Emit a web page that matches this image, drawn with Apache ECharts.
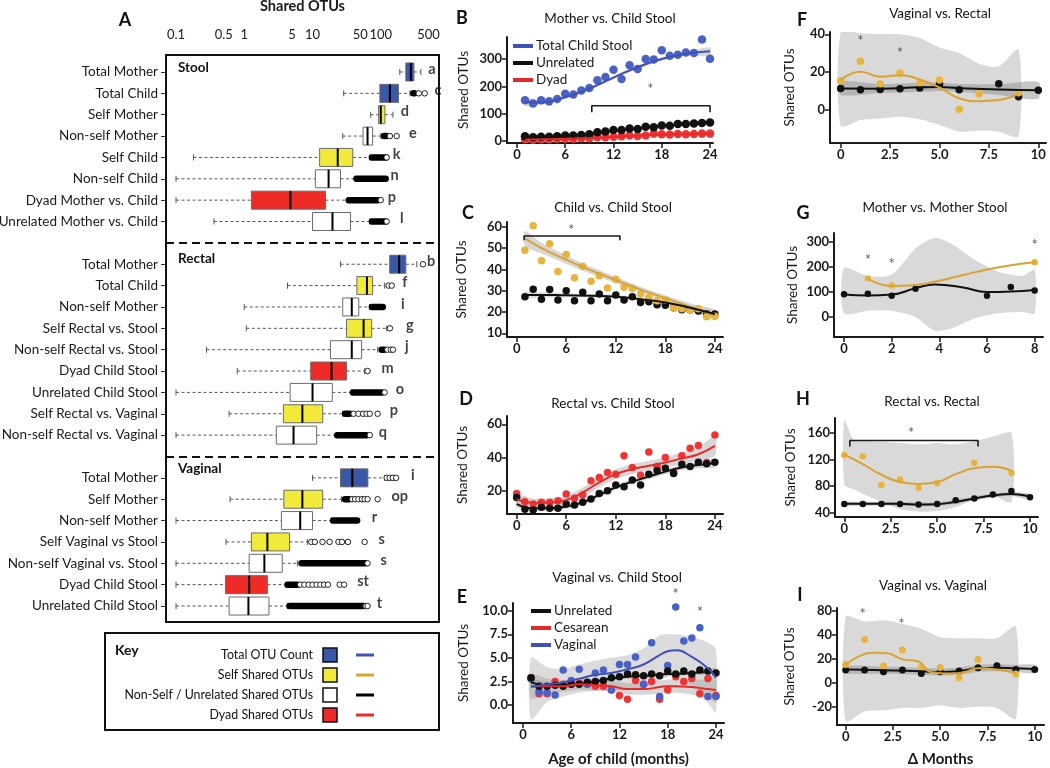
<!DOCTYPE html>
<html><head><meta charset="utf-8">
<script src="https://cdn.jsdelivr.net/npm/echarts@6/dist/echarts.min.js"></script>
<style>html,body{margin:0;padding:0;background:#fff}#c{width:1050px;height:768px}</style>
</head><body><div id="c"></div>
<script>
const FONT = 'Lato, "Noto Sans", "DejaVu Sans", sans-serif';

// ---------------- Panel A: box plots (log scale) ----------------
const aLabels = ['Total Mother','Total Child','Self Mother','Non-self Mother','Self Child','Non-self Child','Dyad Mother vs. Child','Unrelated Mother vs. Child',' ',
  'Total Mother','Total Child','Non-self Mother','Self Rectal vs. Stool','Non-self Rectal vs. Stool','Dyad Child Stool','Unrelated Child Stool','Self Rectal vs. Vaginal','Non-self Rectal vs. Vaginal','  ',
  'Total Mother','Self Mother','Non-self Mother','Self Vaginal vs Stool','Non-self Vaginal vs. Stool','Dyad Child Stool','Unrelated Child Stool'];
const aGroups = ['total','total','self','other','self','other','dyad','other',null,
  'total','self','other','self','other','dyad','other','self','other',null,
  'total','self','other','self','other','dyad','other'];
const aLow  = [190,28.6,71,27.7,0.18,0.1,0.1,0.36,null, 25.7,4.3,1,1.07,0.28,0.79,0.1,0.6,0.1,null, 10,0.62,0.1,0.54,0.1,0.1,0.1];
const aQ1   = [233,97,93,55,12.7,11,1.27,10,null, 135,44.6,27.7,31.5,18.3,9.4,4.7,3.74,2.95,null, 25.7,3.8,3.5,1.27,1.18,0.53,0.6];
const aMed  = [276,136,100,64,23.4,17.2,4.75,19.6,null, 186,62.7,37.6,56,37.6,19,10,7.1,5.27,null, 38.3,7.1,6.6,2.18,1.97,1.18,1.15];
const aQ3   = [306,182,115,76,38.9,25.7,15.5,36,null, 233,76,47.6,73.6,52.4,31.6,19.5,14.1,11.5,null, 64.7,14.1,10,4.6,3.6,2.18,2.3];
const aHigh = [387,267,151,100,69,43,32.6,69,null, 337,114,69,122,90,58,37.6,27.7,22.5,null, 114,26.6,19,8.4,6,4.1,4.3];
const aDense = [null,[300,310],null,[112,120],[74,120],[44,118],[34,90],[74,118],null,
  null,null,[74,107],null,[103,112],null,[39,105],[30,35],[23,62],null,
  null,[30,34],[20,45],null,[6.9,60],[4.3,6],[4.6,55]];
const aOpen = [[],[360,440],[],[136,171],[122],[],[100],[122],[],
  [415],[130,145],[],[136],[125,140,151],[64],[114],[40,47,55,62,69,90],[69],[],
  [122,135,150,168],[38,42,47,53,58,64,90],[],[9.6,10.8,14,17.8,24,27,33,58],[64],[6.6,7.6,8.8,10,11.5,13,14.8,16.8,25,29],[60,64]];
const aLetters = ['a','c','d','e','k','n','p','l','', 'b','f','i','g','j','m','o','p','q','', 'i','op','r','s','s','st','t'];
const aLetterX = [560,690,225,295,171,160,145,203,null, 545,225,210,267,240,126,190,155,107,null, 295,190,81,103,110,55,96];
const aTicks = [0.1,0.5,1,5,10,50,100,500];
const aTickLabels = ['0.1','0.5','1','5','10','50','100','500'];
const groupColors = {total:'#3a57a8', self:'#f1ea3a', other:'#ffffff', dyad:'#ee2b26'};

// ---------------- Panel B ----------------
const bMonths = [1,2,3,4,5,6,7,8,9,10,11,12,13,14,15,16,17,18,19,20,21,22,23,24];
const bTotal = [149,137,149,145,154,173,170,185,194,222,234,261,227,277,263,300,298,332,312,316,324,322,371,301];
const bUnrelated = [17,14,16,16,17,20,20,22,25,32,35,40,40,46,44,52,50,57,56,62,62,64,66,68];
const bDyad = [6,5,6,6,8,8,8,10,10,14,14,16,17,20,18,20,27,25,24,26,25,26,27,27];
const bFitX = [1,3,6,9,12,15,18,21,24];
const bTotalFit = [143,141,160,192,232,270,300,318,328];
const bTotalLo = [128,133,153,186,226,264,294,311,313];
const bTotalHi = [158,149,167,198,238,276,306,325,343];
const bUnrelFit = [15,16,19,25,37,47,55,61,67];
const bUnrelLo = [12,13,16,22,34,44,52,58,62];
const bUnrelHi = [18,19,22,28,40,50,58,64,72];
const bDyadFit = [5,6,8,11,15,19,23,25,26];
const bBracket = [[9.3,105],[9.3,129],[24,129],[24,105]];
const bStars = [[16.6,190]];

// ---------------- Panel C ----------------
const cMonths = bMonths;
const cSelf = [49,60.5,44,52,39,47,36,41.5,34.4,37,31.3,35.4,31.6,31,28.4,26.8,25.3,25.6,22,21.5,21,21.5,17.8,18];
const cUnrelated = [27.1,30.7,26,30.5,25.6,30,25.3,29.2,25.3,28.4,25.3,28,25.6,27.1,24.5,24.8,23.4,23.2,22,21,21,20.5,19,19];
const cFitX = [1,3,6,9,12,15,18,21,24];
const cSelfFit = [54.5,50,44.5,39.5,35,30.5,26.5,22.5,18.5];
const cSelfLo = [51,47.5,42.5,37.8,33.5,29.2,25.2,21,16];
const cSelfHi = [58,52.5,46.5,41.2,36.5,31.8,27.8,24,21];
const cUnrelFit = [28,28,27.8,27.6,27.2,26,24.5,22,19];
const cUnrelLo = [26.5,26.8,26.8,26.8,26.4,25.2,23.6,21,17.5];
const cUnrelHi = [29.5,29.2,28.8,28.4,28,26.8,25.4,23,20.5];
const cBracket = [[0.9,53.7],[0.9,55.6],[12.5,55.6],[12.5,53.7]];
const cStars = [[6.6,58.2]];

// ---------------- Panel D ----------------
const dMonths = [0,1,2,3,4,5,6,7,8,9,10,11,12,13,14,15,16,17,18,19,20,21,22,23,24];
const dDyad = [18.4,13.4,12,13,13,14,18,15.5,17.5,26,28,31,30,41,34,29.4,43.4,34.6,40,31,41,45.6,47.2,37,53.6];
const dUnrelated = [16,8.8,8.4,10,9.4,9.4,12,11.4,13,15,18.4,20,23.4,22.4,26.4,23.4,30,32,33.6,30.4,36,34.6,37.2,36.2,37.2];
const dFitX = [0,2,4,6,8,10,12,14,16,18,20,22,24];
const dDyadFit = [15,12.8,12.8,14.5,19,25,30,33,35,37,39.5,42,47];
const dDyadLo = [12,10.3,10.3,12,16,22,27,30,32,34,36,38,41];
const dDyadHi = [18,15.3,15.3,17,22,28,33,36,38,40,43,46,53];
const dUnrelFit = [12,9.5,9.5,10.5,13,17.5,22,25.5,28.5,31.5,34,35.5,36.5];
const dUnrelLo = [10,8,8,9,11.5,16,20.5,24,27,30,32.5,33.5,34];
const dUnrelHi = [14,11,11,12,14.5,19,23.5,27,30,33,35.5,37.5,39];

// ---------------- Panel E ----------------
const eMonths = bMonths;
const eVaginal = [2.75,1.4,1.3,1.06,3.7,2.6,3.8,2.2,3.4,3.7,1.6,4.3,4.3,5.1,2.2,6.6,0.9,4.2,10.4,6.8,7.1,8.2,0.9,0.9];
const eCesarean = [2.9,1.2,1.2,2.5,2.2,2.2,2.3,2.2,2.0,2.0,1.6,1.0,0.6,2.6,2.2,2.5,0.6,1.6,3.0,2.5,2.8,1.2,2.8,1.0];
const eUnrelated = [2.9,2.0,2.0,2.1,2.0,2.2,2.2,2.4,2.5,2.6,2.9,3.0,3.3,3.2,3.1,3.3,3.1,3.6,3.3,3.6,3.3,3.7,3.6,3.4];
const eFitX = [1,3,5,7,9,11,13,15,17,18,19,21,23,24];
const eUnrelFit = [2.4,2.1,2.1,2.2,2.5,2.8,3.0,3.1,3.2,3.3,3.3,3.4,3.5,3.5];
const eUnrelLo = [2.0,1.85,1.9,2.0,2.3,2.6,2.8,2.9,3.0,3.1,3.1,3.2,3.2,3.1];
const eUnrelHi = [2.8,2.35,2.3,2.4,2.7,3.0,3.2,3.3,3.4,3.5,3.5,3.6,3.8,3.9];
const eCesFit = [2.0,2.0,2.0,2.2,2.1,2.0,1.7,1.7,1.9,2.0,2.0,1.9,1.7,1.6];
const eCesLo = [0.7,1.2,1.4,1.6,1.5,1.4,1.1,1.1,1.2,1.3,1.3,1.1,0.7,0.3];
const eCesHi = [3.3,2.8,2.6,2.8,2.7,2.6,2.3,2.3,2.6,2.7,2.7,2.7,2.7,2.9];
const eVagFit = [1.9,2.2,2.4,2.8,3.2,3.4,3.8,4.3,5.3,5.7,5.8,5.1,3.9,2.9];
const eVagLo = [-1.5,0.3,0.9,1.3,1.5,1.5,1.6,1.8,2.6,3.0,3.0,2.0,0.2,-0.8];
const eVagHi = [5.0,4.0,3.8,4.3,4.7,5.0,5.3,6.0,7.4,7.5,7.5,7.2,6.6,5.9];
const eStars = [[19,11.8],[22,9.9]];

// ---------------- Panel F ----------------
const fSelfX = [0,1,2,3,4,5,6,7,9];
const fSelf = [15.4,25.8,13.7,19.5,14,15.8,0.4,8.6,9.1];
const fUnrelX = [0,1,2,3,4,5,6,8,9,10];
const fUnrel = [11.4,10.7,10.9,11.2,11.6,13.7,10.7,13.9,7.0,10.5];
const fSelfFitX = [0,1,2,3,4,5,6,7,8,9];
const fSelfFit = [15.8,20.2,17.6,18.4,16.1,11.9,6.2,4.7,5.3,8.4];
const fSelfLo = [-8.4,-5.3,-4.4,-3.5,-4.9,-7.9,-11.4,-10.9,-11.4,-13.7];
const fSelfHi = [41,40.5,40,40,38,33,30,24.5,23,32];
const fUnrelFitX = [0,2,4,5,6,8,10];
const fUnrelFit = [11.4,11.3,12,12.2,11.6,10.8,10.4];
const fUnrelLo = [8,9,9.5,10,9.5,8,6];
const fUnrelHi = [15,13.6,14.5,14.5,13.8,13.6,14.8];
const fStars = [[1,36.5],[3,30.2]];

// ---------------- Panel G ----------------
const gSelfX = [1,2,8];
const gSelf = [154,126,219];
const gUnrelX = [0,1,2,3,6,7,8];
const gUnrel = [91,93,85,113,85,120,106];
const gSelfFitX = [1,2,3,4,5,6,7,8];
const gSelfFit = [153,124,128,145,168,190,207,219];
const gUnrelFitX = [0,1,2,3,3.8,5,6,7,8];
const gUnrelFit = [90,86,90,115,130,118,100,102,108];
const gBandX = [0,1,2,3,3.8,4.5,5.5,6.5,7.5,8];
const gBandLo = [15,25,25,0,-55,-46,-5,15,20,15];
const gBandHi = [195,163,170,274,317,293,228,180,165,190];
const gStars = [[1,228],[2,211],[8,287]];

// ---------------- Panel H ----------------
const hSelfX = [0,1,2,3,4,5,7,9];
const hSelf = [127,125,81.5,90,77.5,84,115,99.5];
const hUnrelX = [0,1,2,3,4,5,6,7,8,9,10];
const hUnrel = [52.8,52.8,52.8,52.8,51.8,52.8,58.5,61,67,72.3,63];
const hSelfFitX = [0,1,2,3,4,5,6,7,8,9];
const hSelfFit = [128,113,97,86,83,86,98,107,109,103];
const hBandX = [0,0.5,1,2,3,4,5,6,7,8,9];
const hBandLo = [82,75,68,56,45,41,42,48,60,65,56];
const hBandHi = [180,150,148,147,145,143,145,143,148,155,160];
const hUnrelFit = [53,53,53,53,52,52.5,56,61,65.5,68,64];
const hUnrelLo = [50,50,50,50,49,49.5,53,58,62.5,65,60];
const hUnrelHi = [56,56,56,56,55,55.5,59,64,68.5,71,68];
const hBracket = [[0.3,140],[0.3,149],[7.2,149],[7.2,140]];
const hStars = [[3.6,160]];

// ---------------- Panel I ----------------
const iSelfX = [0,1,2,3,4,5,6,7,9];
const iSelf = [15.3,36,13.9,27.2,12.8,12.8,4.2,19.4,7.2];
const iUnrelX = [0,1,2,3,4,5,6,7,8,9,10];
const iUnrel = [10.6,10.6,9.2,10.6,7.8,9.2,9.7,12.5,14.2,11.1,11.1];
const iSelfFitX = [0,0.7,1.5,2.2,3,3.8,4.5,5.5,6.3,7,8,9];
const iSelfFit = [15,22,25,24.5,19.5,18,9,7.5,9,12,11,8];
const iUnrelFitX = [0,2,4,5,6,7,8,9,10];
const iUnrelFit = [11,10.5,9.5,9,9.8,12,12.5,12,11.5];
const iUnrelLo = [8,7.5,6.5,6,6.8,9,9.5,9,8];
const iUnrelHi = [14,13.5,12.5,12,12.8,15,15.5,15,15];
const iBandX = [0,1,2,3,4,5,6,7,8,9];
const iBandLo = [-32,-24,-23,-21,-21,-19,-21,-20,-21,-30];
const iBandHi = [55,51,52,49,45,38,37,37,37,47];
const iStars = [[0.9,57],[2.95,49]];

// ---------------- tick arrays ----------------
const monthTicks = [0,6,12,18,24];
const monthLabels = ['0','6','12','18','24'];
const bYTicks = [0,100,200,300];
const cYTicks = [10,20,30,40,50,60];
const dYTicks = [20,40,60];
const eYTicks = [0,2.5,5,7.5,10];
const eYLabels = ['0.0','2.5','5.0','7.5','10.0'];
const deltaTicks = [0,2.5,5,7.5,10];
const deltaLabels = ['0','2.5','5.0','7.5','10'];
const fYTicks = [0,20,40];
const gXTicks = [0,2,4,6,8];
const gYTicks = [0,100,200,300];
const hYTicks = [40,80,120,160];
const iYTicks = [-20,0,20,40,60];
const iYLabels = ['-20','0','20','40','80'];

// ---------------- key ----------------
const keyLabels = ['Total OTU Count','Self Shared OTUs','Non-Self / Unrelated Shared OTUs','Dyad Shared OTUs'];
const keyFills = [groupColors.total, groupColors.self, groupColors.other, groupColors.dyad];
const keyLines = ['#3f55b3','#d9a431','#000000','#ee2b2b'];

// ---------------- colors ----------------
const C = {blue:'#4a62c6', blueLine:'#3f50b8', gold:'#e8b43c', goldLine:'#d8a332', red:'#ee3434', redLine:'#e62a2a', black:'#111111'};

// ================= build =================
const chart = echarts.init(document.getElementById('c'), null, {renderer:'canvas'});
const ink = '#1a1a1a';
function nearest(arr, v, log) {
  let best = 0, bd = Infinity;
  arr.forEach((t, i) => { const d = log ? Math.abs(Math.log10(t) - Math.log10(v)) : Math.abs(t - v); if (d < bd) { bd = d; best = i; } });
  return best;
}
function valAxis(gi, min, max, ticks, labels, extra) {
  return Object.assign({
    type:'value', gridIndex:gi, min, max, scale:false,
    axisLine:{show:true, onZero:false, lineStyle:{color:ink, width:2}},
    axisTick:{show:true, customValues:ticks, length:5, lineStyle:{color:ink, width:1.5}},
    axisLabel:{customValues:ticks, formatter:v => labels[nearest(ticks, v)], fontFamily:FONT, fontSize:13, fontWeight:'bold', color:ink, margin:5},
    splitLine:{show:false}
  }, extra || {});
}
const yName = (gap) => ({name:'Shared OTUs', nameLocation:'middle', nameRotate:90, nameGap:gap, nameTextStyle:{fontFamily:FONT, fontSize:13.5, color:ink}});
const xName = (t, gap) => ({name:t, nameLocation:'middle', nameGap:gap, nameTextStyle:{fontFamily:FONT, fontSize:15, fontWeight:'bold', color:ink}});
const pairs = (xs, ys) => xs.map((x, i) => [x, ys[i]]);

function scatterS(gi, xs, ys, color, size, z) {
  return {type:'scatter', xAxisIndex:gi, yAxisIndex:gi, data:pairs(xs, ys), symbolSize:size, itemStyle:{color, opacity:1}, z:z || 3, silent:true, animation:false, clip:false};
}
function lineS(gi, xs, ys, color, name, w) {
  const s = {type:'line', xAxisIndex:gi, yAxisIndex:gi, data:pairs(xs, ys), smooth:0.5, symbol:'none', showSymbol:false, lineStyle:{color, width:w || 2}, itemStyle:{color}, z:5, silent:true, animation:false};
  if (name) s.name = name;
  return s;
}
// confidence band drawn as a polygon through the library's coordinate system
function bandS(gi, xs, lo, hi, color, op) {
  return {
    type:'custom', xAxisIndex:gi, yAxisIndex:gi, silent:true, animation:false, z:1, clip:true,
    data:xs.map((x, i) => [x, lo[i], hi[i]]),
    encode:{x:0, y:[1,2]},
    renderItem:(params, api) => {
      if (params.dataIndex !== 0) return null;
      const top = xs.map((x, i) => api.coord([x, hi[i]]));
      const bot = xs.map((x, i) => api.coord([x, lo[i]])).reverse();
      return {type:'polygon', shape:{points:top.concat(bot), smooth:0.25}, style:{fill:color, opacity:op}};
    }
  };
}
function bracketS(gi, pts) {
  return {type:'line', xAxisIndex:gi, yAxisIndex:gi, data:pts, symbol:'none', lineStyle:{color:ink, width:1.6}, z:6, silent:true, animation:false};
}
function starS(gi, pts) {
  return {type:'scatter', xAxisIndex:gi, yAxisIndex:gi, data:pts, symbolSize:0, clip:false, label:{show:true, formatter:'*', position:'inside', fontFamily:FONT, fontSize:15, color:'#333'}, z:6, silent:true, animation:false};
}

const grids = [
  {left:166, top:61.3, width:273, height:555.4},   // A
  {left:507, top:37, width:206, height:106},       // B
  {left:507, top:222, width:216, height:115},      // C
  {left:507, top:416, width:216, height:98},       // D
  {left:513, top:603, width:211, height:120},      // E
  {left:830, top:32, width:216, height:111},       // F
  {left:834, top:233, width:209, height:104},      // G
  {left:835, top:418, width:203, height:99},       // H
  {left:837, top:608, width:207, height:117}       // I
].map(g => Object.assign({containLabel:false, outerBoundsMode:'none'}, g));

const xAxes = [
  {type:'log', gridIndex:0, position:'top', min:0.0713, max:713, logBase:10,
   axisLine:{show:false}, axisTick:{show:false}, splitLine:{show:false},
   axisLabel:{customValues:aTicks, formatter:v => aTickLabels[nearest(aTicks, v, true)], margin:20, fontFamily:FONT, fontSize:13, color:ink},
   name:'Shared OTUs', nameLocation:'middle', nameGap:47, nameTextStyle:{fontFamily:FONT, fontSize:14.5, fontWeight:'bold', color:ink}},
  valAxis(1, -1.24, 24.37, monthTicks, monthLabels),
  valAxis(2, -1.17, 24.98, monthTicks, monthLabels),
  valAxis(3, -1.17, 24.98, monthTicks, monthLabels),
  valAxis(4, -1.24, 25, monthTicks, monthLabels, xName('Age of child (months)', 29)),
  valAxis(5, -0.54, 10.39, deltaTicks, deltaLabels),
  valAxis(6, -0.42, 8.35, gXTicks, gXTicks.map(String)),
  valAxis(7, -0.5, 10.43, deltaTicks, deltaLabels),
  valAxis(8, -0.46, 10.49, deltaTicks, deltaLabels, xName('\u0394 Months', 27))
];
const yAxes = [
  {type:'category', gridIndex:0, data:aLabels, inverse:true,
   axisLine:{show:false}, splitLine:{show:false},
   axisTick:{show:true, alignWithLabel:true, length:5, interval:(i, v) => String(v).trim() !== '', lineStyle:{color:'#333'}},
   axisLabel:{interval:0, margin:8, fontFamily:FONT, fontSize:13.5, color:ink}},
  valAxis(1, -7.3, 380.5, bYTicks, bYTicks.map(String), yName(36)),
  valAxis(2, 8.27, 62.2, cYTicks, cYTicks.map(String), yName(38)),
  valAxis(3, 6, 65, dYTicks, dYTicks.map(String), yName(37)),
  valAxis(4, -1.91, 10.82, eYTicks, eYLabels, yName(42)),
  valAxis(5, -17.4, 41.2, fYTicks, fYTicks.map(String), yName(33)),
  valAxis(6, -80, 336, gYTicks, gYTicks.map(String), yName(34)),
  valAxis(7, 33, 183, hYTicks, hYTicks.map(String), yName(37)),
  valAxis(8, -35.2, 62.3, iYTicks, iYLabels, yName(40))
];

// ---- Panel A series ----
const aRows = aLabels.map((_, i) => i).filter(i => aLow[i] != null);
const groupKeys = ['total','self','other','dyad'];
const series = [];
series.push({
  type:'custom', xAxisIndex:0, yAxisIndex:0, silent:true, animation:false, z:3,
  encode:{x:[0,1,2,3,4], y:5},
  data:aRows.map(i => [aLow[i], aQ1[i], aMed[i], aQ3[i], aHigh[i], i, groupKeys.indexOf(aGroups[i])]),
  renderItem:(params, api) => {
    const y = api.value(5);
    const lo = api.coord([api.value(0), y]), q1 = api.coord([api.value(1), y]), md = api.coord([api.value(2), y]);
    const q3 = api.coord([api.value(3), y]), hi = api.coord([api.value(4), y]);
    const cy = lo[1], h = 18;
    const fill = groupColors[groupKeys[api.value(6)]];
    const wh = {stroke:'#555', lineWidth:1, lineDash:[3,2.5]};
    const cap = {stroke:'#555', lineWidth:1};
    return {type:'group', children:[
      {type:'line', shape:{x1:lo[0], y1:cy, x2:q1[0], y2:cy}, style:wh},
      {type:'line', shape:{x1:q3[0], y1:cy, x2:hi[0], y2:cy}, style:wh},
      {type:'line', shape:{x1:lo[0], y1:cy - 3, x2:lo[0], y2:cy + 3}, style:cap},
      {type:'line', shape:{x1:hi[0], y1:cy - 3, x2:hi[0], y2:cy + 3}, style:cap},
      {type:'rect', shape:{x:q1[0], y:cy - h / 2, width:q3[0] - q1[0], height:h}, style:{fill, stroke:'#6b6b6b', lineWidth:1}},
      {type:'line', shape:{x1:md[0], y1:cy - h / 2, x2:md[0], y2:cy + h / 2}, style:{stroke:'#000', lineWidth:2}}
    ]};
  }
});
series.push({
  type:'custom', xAxisIndex:0, yAxisIndex:0, silent:true, animation:false, z:4,
  encode:{x:[0,1], y:2},
  data:aRows.filter(i => aDense[i]).map(i => [aDense[i][0], aDense[i][1], i]),
  renderItem:(params, api) => {
    const a = api.coord([api.value(0), api.value(2)]), b = api.coord([api.value(1), api.value(2)]);
    return {type:'line', shape:{x1:a[0], y1:a[1], x2:b[0], y2:b[1]}, style:{stroke:'#000', lineWidth:6.5, lineCap:'round'}};
  }
});
const openPts = [];
aOpen.forEach((arr, i) => arr.forEach(v => openPts.push([v, i])));
series.push({type:'scatter', xAxisIndex:0, yAxisIndex:0, data:openPts, symbolSize:5.5, itemStyle:{color:'#fff', borderColor:'#222', borderWidth:1, opacity:1}, z:5, silent:true, animation:false});
series.push({
  type:'scatter', xAxisIndex:0, yAxisIndex:0, silent:true, animation:false, z:6, clip:false,
  data:aRows.filter(i => aLetters[i]).map(i => [aLetterX[i], i, aLetters[i]]),
  symbolSize:0,
  label:{show:true, position:'inside', formatter:p => p.value[2], fontFamily:FONT, fontSize:14.5, fontWeight:'bold', color:'#111', offset:[0,-3]},
  markLine:{silent:true, symbol:['none','none'], label:{show:false}, lineStyle:{type:[8,5], color:'#111', width:2}, data:[{yAxis:8}, {yAxis:18}], animation:false}
});

// ---- Panel B ----
series.push(bandS(1, bFitX, bTotalLo, bTotalHi, '#bdbdbd', 0.6));
series.push(bandS(1, bFitX, bUnrelLo, bUnrelHi, '#bdbdbd', 0.5));
series.push(scatterS(1, bMonths, bDyad, C.red, 8.5));
series.push(scatterS(1, bMonths, bUnrelated, C.black, 8.5));
series.push(scatterS(1, bMonths, bTotal, C.blue, 8.5));
series.push(lineS(1, bFitX, bTotalFit, C.blueLine, 'Total Child Stool'));
series.push(lineS(1, bFitX, bUnrelFit, C.black, 'Unrelated'));
series.push(lineS(1, bFitX, bDyadFit, C.redLine, 'Dyad'));
series.push(bracketS(1, bBracket));
series.push(starS(1, bStars));

// ---- Panel C ----
series.push(bandS(2, cFitX, cSelfLo, cSelfHi, '#bdbdbd', 0.6));
series.push(bandS(2, cFitX, cUnrelLo, cUnrelHi, '#bdbdbd', 0.5));
series.push(scatterS(2, cMonths, cUnrelated, C.black, 7.5));
series.push(scatterS(2, cMonths, cSelf, C.gold, 7.5));
series.push(lineS(2, cFitX, cSelfFit, C.goldLine));
series.push(lineS(2, cFitX, cUnrelFit, C.black));
series.push(bracketS(2, cBracket));
series.push(starS(2, cStars));

// ---- Panel D ----
series.push(bandS(3, dFitX, dDyadLo, dDyadHi, '#bdbdbd', 0.6));
series.push(bandS(3, dFitX, dUnrelLo, dUnrelHi, '#bdbdbd', 0.6));
series.push(scatterS(3, dMonths, dDyad, C.red, 7.5));
series.push(scatterS(3, dMonths, dUnrelated, C.black, 7.5));
series.push(lineS(3, dFitX, dDyadFit, C.redLine));
series.push(lineS(3, dFitX, dUnrelFit, C.black));

// ---- Panel E ----
series.push(bandS(4, eFitX, eVagLo, eVagHi, '#c4c4c4', 0.6));
series.push(bandS(4, eFitX, eCesLo, eCesHi, '#9a9a9a', 0.4));
series.push(bandS(4, eFitX, eUnrelLo, eUnrelHi, '#8a8a8a', 0.4));
series.push(scatterS(4, eMonths, eCesarean, C.red, 7.5));
series.push(scatterS(4, eMonths, eVaginal, C.blue, 7.5));
series.push(scatterS(4, eMonths, eUnrelated, C.black, 7.5));
series.push(lineS(4, eFitX, eUnrelFit, C.black, 'Unrelated'));
series.push(lineS(4, eFitX, eCesFit, C.redLine, 'Cesarean'));
series.push(lineS(4, eFitX, eVagFit, C.blueLine, 'Vaginal'));
series.push(starS(4, eStars));

// ---- Panel F ----
series.push(bandS(5, fSelfFitX, fSelfLo, fSelfHi, '#c4c4c4', 0.65));
series.push(bandS(5, fUnrelFitX, fUnrelLo, fUnrelHi, '#8f8f8f', 0.5));
series.push(scatterS(5, fUnrelX, fUnrel, C.black, 7.5));
series.push(scatterS(5, fSelfX, fSelf, C.gold, 7.5));
series.push(lineS(5, fUnrelFitX, fUnrelFit, C.black));
series.push(lineS(5, fSelfFitX, fSelfFit, C.goldLine));
series.push(starS(5, fStars));

// ---- Panel G ----
series.push(bandS(6, gBandX, gBandLo, gBandHi, '#c4c4c4', 0.65));
series.push(scatterS(6, gUnrelX, gUnrel, C.black, 6.5));
series.push(scatterS(6, gSelfX, gSelf, C.gold, 6.5));
series.push(lineS(6, gUnrelFitX, gUnrelFit, C.black));
series.push(lineS(6, gSelfFitX, gSelfFit, C.goldLine));
series.push(starS(6, gStars));

// ---- Panel H ----
series.push(bandS(7, hBandX, hBandLo, hBandHi, '#c4c4c4', 0.65));
series.push(bandS(7, hUnrelX, hUnrelLo, hUnrelHi, '#8f8f8f', 0.45));
series.push(scatterS(7, hUnrelX, hUnrel, C.black, 6.5));
series.push(scatterS(7, hSelfX, hSelf, C.gold, 6.5));
series.push(lineS(7, hUnrelX, hUnrelFit, C.black));
series.push(lineS(7, hSelfFitX, hSelfFit, C.goldLine));
series.push(bracketS(7, hBracket));
series.push(starS(7, hStars));

// ---- Panel I ----
series.push(bandS(8, iBandX, iBandLo, iBandHi, '#c4c4c4', 0.65));
series.push(bandS(8, iUnrelFitX, iUnrelLo, iUnrelHi, '#8f8f8f', 0.45));
series.push(scatterS(8, iUnrelX, iUnrel, C.black, 7));
series.push(scatterS(8, iSelfX, iSelf, C.gold, 7));
series.push(lineS(8, iUnrelFitX, iUnrelFit, C.black));
series.push(lineS(8, iSelfFitX, iSelfFit, C.goldLine));
series.push(starS(8, iStars));

// ---- text & decorations ----
function txt(x, y, text, size, weight, align) {
  return {type:'text', x, y, silent:true, style:{text, fontFamily:FONT, fontSize:size, fontWeight:weight || 'normal', fill:'#111',
    align:align || 'center', textAlign:align || 'center', verticalAlign:'middle', textVerticalAlign:'middle'}};
}
const graphics = [];
graphics.push({type:'rect', silent:true, z:10, shape:{x:166, y:55, width:273, height:567}, style:{fill:'none', stroke:'#111', lineWidth:2}});
graphics.push(txt(178, 68, 'Stool', 13.5, 'bold', 'left'));
graphics.push(txt(178, 259, 'Rectal', 13.5, 'bold', 'left'));
graphics.push(txt(178, 469, 'Vaginal', 13.5, 'bold', 'left'));
[['A',125,20],['B',462,18],['C',468,213],['D',466,399],['E',462,597],['F',802,20],['G',803,213],['H',803,399],['I',800,595]]
  .forEach(([t, x, y]) => graphics.push(txt(x, y, t, 18, 'bold')));
[['Mother vs. Child Stool',610,19],['Child vs. Child Stool',613,208],['Rectal vs. Child Stool',613,404],['Vaginal vs. Child Stool',617,578],
 ['Vaginal vs. Rectal',940,14],['Mother vs. Mother Stool',935,208],['Rectal vs. Rectal',932,402],['Vaginal vs. Vaginal',933,586]]
  .forEach(([t, x, y]) => graphics.push(txt(x, y, t, 13.5)));
// key
graphics.push({type:'rect', silent:true, shape:{x:105, y:633, width:334, height:97}, style:{fill:'#fff', stroke:'#111', lineWidth:2}});
graphics.push(txt(115, 650, 'Key', 14, 'bold', 'left'));
keyLabels.forEach((t, i) => {
  const y = 655 + 20 * i;
  graphics.push(txt(313, y, t, 12.4, 'normal', 'right'));
  graphics.push({type:'rect', silent:true, shape:{x:323, y:y - 7, width:14, height:14}, style:{fill:keyFills[i], stroke:'#111', lineWidth:1.5}});
  graphics.push({type:'line', silent:true, shape:{x1:356, y1:y, x2:374, y2:y}, style:{stroke:keyLines[i], lineWidth:3}});
});

const legendBase = {orient:'vertical', icon:'rect', itemWidth:20, itemHeight:4, itemGap:3, selectedMode:false,
  textStyle:{fontFamily:FONT, fontSize:13.5, color:ink, padding:[0,0,0,-2]}};
const option = {
  animation:false,
  backgroundColor:'#fff',
  grid:grids,
  xAxis:xAxes,
  yAxis:yAxes,
  legend:[
    Object.assign({left:508, top:34, data:['Total Child Stool','Unrelated','Dyad']}, legendBase),
    Object.assign({left:526, top:599, data:['Unrelated','Cesarean','Vaginal']}, legendBase)
  ],
  graphic:graphics,
  series
};
chart.setOption(option);
</script></body></html>
